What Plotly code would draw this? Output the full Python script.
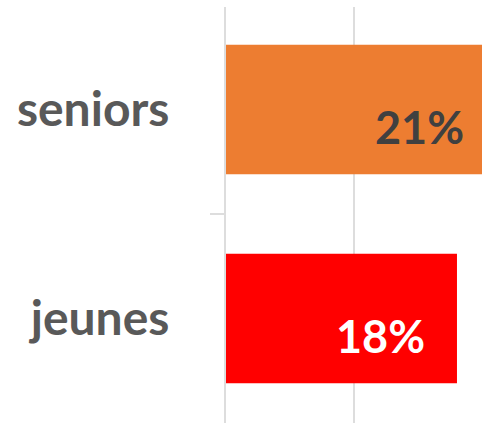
import plotly.graph_objects as go

categories = ["seniors", "jeunes"]
values = [21, 18]
labels = ["21%", "18%"]
bar_colors = ["#ED7D31", "#FF0000"]
label_colors = ["#404040", "#FFFFFF"]

fig = go.Figure()
fig.add_trace(go.Bar(
    y=categories, x=values, orientation="h",
    marker=dict(color=bar_colors, line=dict(width=0)),
    hoverinfo="skip",
))

LABEL_BACK = 2.33  # data units from bar end to label right edge
for cat, v, t, c in zip(categories, values, labels, label_colors):
    fig.add_annotation(
        x=v - LABEL_BACK, y=cat, xref="x", yref="y", text=t,
        showarrow=False, xanchor="right", yanchor="middle", yshift=-18,
        font=dict(family="Lato", size=45, color=c, weight="bold"),
    )

fig.update_layout(
    width=482, height=424,
    margin=dict(l=226, r=0, t=7, b=1),
    paper_bgcolor="white", plot_bgcolor="white",
    bargap=0.38, showlegend=False,
    xaxis=dict(range=[0, 19.95], dtick=10, showgrid=True, gridcolor="#DDDDDD",
               gridwidth=2, showticklabels=False, zeroline=False, showline=False,
               ticks=""),
    yaxis=dict(range=[1.5, -0.49], showline=True, linecolor="#DDDDDD", linewidth=2,
               ticks="outside", tickson="boundaries", ticklen=14, tickcolor="#DDDDDD",
               tickwidth=1.5, ticklabelstandoff=45,
               tickfont=dict(family="Lato", size=48, color="#595959", weight="bold"),
               showgrid=False),
)

fig.write_html("out.html", config={"displayModeBar": False},
               post_script="document.body.style.margin='0';")
